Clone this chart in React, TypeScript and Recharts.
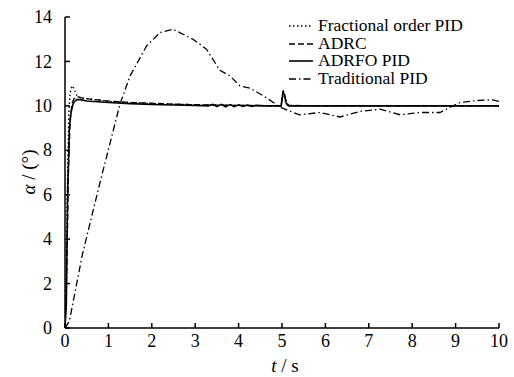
import { Line, LineChart, XAxis, YAxis } from "recharts";

// time (s) and angle (deg) samples
const foTime = [0, 0.03, 0.06, 0.09, 0.12, 0.16, 0.2, 0.25, 0.3, 0.4, 0.6, 1, 1.5, 2, 3, 4, 4.98, 5.03, 5.08, 5.15, 6, 7, 8, 9, 10];
const foValue = [0, 3, 7, 9.8, 10.6, 10.9, 10.8, 10.55, 10.4, 10.35, 10.3, 10.2, 10.15, 10.1, 10.05, 10.02, 10.0, 10.6, 10.2, 10.0, 10, 10, 10, 10, 10];

const adrcTime = [0, 0.04, 0.08, 0.12, 0.16, 0.2, 0.25, 0.3, 0.4, 0.6, 1, 1.5, 2, 2.5, 3, 4, 4.98, 5.03, 5.08, 5.15, 6, 7, 8, 9, 10];
const adrcValue = [0, 2.5, 7, 9.4, 10.1, 10.3, 10.4, 10.4, 10.35, 10.3, 10.22, 10.15, 10.12, 10.08, 10.05, 10.02, 10.0, 10.7, 10.3, 10.02, 10, 10, 10, 10, 10];

const adrfoTime = [0, 0.03, 0.06, 0.1, 0.14, 0.18, 0.22, 0.27, 0.35, 0.5, 1, 1.5, 2, 2.5, 3, 3.3, 3.4, 3.5, 3.6, 3.7, 3.8, 3.9, 4.0, 4.1, 4.2, 4.3, 4.4, 4.6, 4.8, 4.98, 5.02, 5.06, 5.1, 5.15, 5.3, 6, 7, 8, 9, 10];
const adrfoValue = [0, 1, 6, 9, 9.7, 10.05, 10.2, 10.28, 10.28, 10.22, 10.15, 10.1, 10.06, 10.04, 10.02, 10.0, 10.07, 9.97, 10.07, 9.96, 10.06, 9.97, 10.05, 9.98, 10.04, 9.98, 10.02, 10.0, 10.0, 10.0, 10.6, 10.5, 10.1, 10.0, 10.0, 10, 10, 10, 10, 10];

const pidTime = [0, 0.1, 0.4, 0.8, 1.27, 1.5, 1.88, 2.19, 2.49, 2.95, 3.26, 3.57, 3.8, 4.03, 4.26, 4.57, 4.8, 4.95, 5.26, 5.41, 5.87, 6.34, 6.8, 7.26, 7.72, 8.18, 8.64, 8.91, 9.1, 9.49, 9.86, 10];
const pidValue = [0, 0.3, 3.3, 6.5, 10.1, 11.35, 12.7, 13.3, 13.45, 13.0, 12.55, 11.6, 11.35, 10.9, 10.8, 10.45, 10.15, 9.95, 9.7, 9.6, 9.7, 9.5, 9.75, 9.85, 9.6, 9.7, 9.7, 9.97, 10.15, 10.24, 10.27, 10.2];

const xTicks = [0, 1, 2, 3, 4, 5, 6, 7, 8, 9, 10];
const yTicks = [0, 2, 4, 6, 8, 10, 12, 14];

const zip = (ts: number[], vs: number[]) => ts.map((t, i) => ({ t, v: vs[i] }));

const series = [
  { name: "Fractional order PID", data: zip(foTime, foValue), dash: "1.5 2.5", width: 1.4 },
  { name: "ADRC", data: zip(adrcTime, adrcValue), dash: "6 3", width: 1.3 },
  { name: "ADRFO PID", data: zip(adrfoTime, adrfoValue), dash: undefined, width: 1.6 },
  { name: "Traditional PID", data: zip(pidTime, pidValue), dash: "7 3 1.5 3", width: 1.3 },
];

const font = "'Liberation Serif', 'Times New Roman', serif";
const textStyle = { fontFamily: font, fontSize: 18, fill: "#000" };

const XTick = (props: any) => (
  <text x={props.x} y={props.y} dy="0.71em" textAnchor="middle" style={textStyle}>
    {props.payload.value}
  </text>
);

const YTick = (props: any) => (
  <text x={props.x} y={props.y} dy="0.34em" textAnchor="end" style={textStyle}>
    {props.payload.value}
  </text>
);

const LegendBox = () => (
  <div
    style={{
      position: "absolute",
      left: 289,
      top: 17,
      fontFamily: font,
      fontSize: 17.5,
      lineHeight: "17.7px",
      color: "#000",
    }}
  >
    {series.map((s) => (
      <div key={s.name} style={{ display: "flex", alignItems: "center", whiteSpace: "nowrap", height: 17.7 }}>
        <svg width={28} height={10} style={{ marginRight: 1 }}>
          <line x1={0} y1={5} x2={24} y2={5} stroke="#000" strokeWidth={s.width} strokeDasharray={s.dash} />
        </svg>
        <span>{s.name}</span>
      </div>
    ))}
  </div>
);

export default function App() {
  return (
    <div style={{ position: "absolute", left: 0, top: 0, width: 514, height: 377, background: "#fff" }}>
      <LineChart width={514} height={377} margin={{ top: 17, right: 15, left: 0, bottom: 0 }}>
        <XAxis
          dataKey="t"
          type="number"
          domain={[0, 10]}
          ticks={xTicks}
          height={49}
          stroke="#000"
          strokeWidth={1.5}
          tickSize={-5}
          tickMargin={11}
          tick={<XTick />}
          allowDataOverflow
          label={() => (
            <text x={285} y={372} textAnchor="middle" style={{ ...textStyle, fontSize: 19 }}>
              <tspan fontStyle="italic">t</tspan>
              <tspan> / s</tspan>
            </text>
          )}
        />
        <XAxis xAxisId="top" orientation="top" type="number" domain={[0, 10]} height={0} tick={false} tickLine={false} stroke="#000" strokeWidth={1.5} />
        <YAxis
          type="number"
          domain={[0, 14]}
          ticks={yTicks}
          width={65}
          stroke="#000"
          strokeWidth={1.5}
          tickSize={-5}
          tickMargin={18}
          tick={<YTick />}
          allowDataOverflow
          label={() => (
            <text x={35} y={172} textAnchor="middle" transform="rotate(-90 35 172)" style={{ ...textStyle, fontSize: 19 }}>
              <tspan fontStyle="italic">α</tspan>
              <tspan> / (°)</tspan>
            </text>
          )}
        />
        <YAxis yAxisId="right" orientation="right" type="number" domain={[0, 14]} width={0} tick={false} tickLine={false} stroke="#000" strokeWidth={1.5} />
        {series.map((s) => (
          <Line
            key={s.name}
            data={s.data}
            dataKey="v"
            name={s.name}
            type="linear"
            stroke="#000"
            strokeWidth={s.width}
            strokeDasharray={s.dash}
            dot={false}
            activeDot={false}
            isAnimationActive={false}
          />
        ))}
      </LineChart>
      <LegendBox />
    </div>
  );
}
